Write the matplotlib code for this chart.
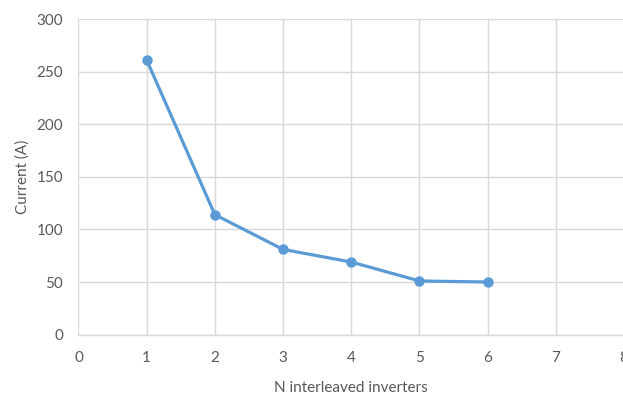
import matplotlib
matplotlib.use("Agg")
import matplotlib.pyplot as plt

n_inverters = [1, 2, 3, 4, 5, 6]
current = [261, 114, 81, 69, 51, 50]
x_ticks = [0, 1, 2, 3, 4, 5, 6, 7, 8]
y_ticks = [0, 50, 100, 150, 200, 250, 300]

plt.rcParams['font.family'] = ['Lato', 'DejaVu Sans']
text_color = '#595959'
grid_color = '#D9D9D9'

fig = plt.figure(figsize=(6.23, 3.96), dpi=100)
ax = fig.add_axes([0.126, 0.155, 0.8756, 0.797])
ax.plot(n_inverters, current, color='#5B9BD5', linewidth=2.3, marker='o',
        markersize=6.5, zorder=3)
ax.set_xlim(0, 8)
ax.set_ylim(0, 300)
ax.set_xticks(x_ticks)
ax.set_yticks(y_ticks)
ax.grid(True, color=grid_color, linewidth=1)
ax.set_axisbelow(True)
for s in ['top', 'right', 'left']:
    ax.spines[s].set_visible(False)
ax.spines['bottom'].set_color(grid_color)
ax.spines['bottom'].set_linewidth(1)
ax.tick_params(axis='x', length=0, labelsize=11, colors=text_color, pad=12)
ax.tick_params(axis='y', length=0, labelsize=11, colors=text_color, pad=11)
ax.set_xlabel('N interleaved inverters', fontsize=11, color=text_color, labelpad=11)
ax.set_ylabel('Current (A)', fontsize=11, color=text_color, labelpad=5)
fig.savefig('out.png', dpi=100)
